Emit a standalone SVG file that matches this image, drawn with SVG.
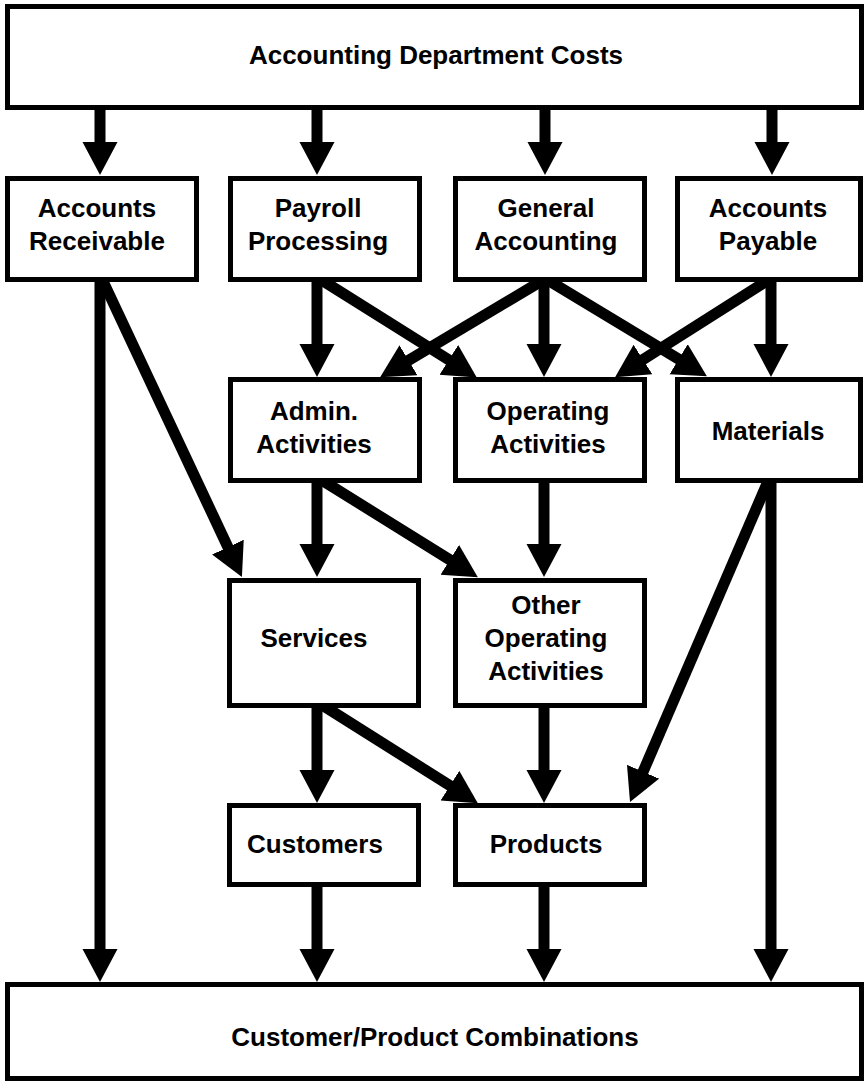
<svg xmlns="http://www.w3.org/2000/svg" width="865" height="1084" viewBox="0 0 865 1084">
<style>
.box{fill:#fff;stroke:#000;stroke-width:5}
.t{font-family:"Liberation Sans",Arial,Helvetica,sans-serif;font-weight:bold;font-size:26px;fill:#000;text-anchor:middle}
.c{stroke:#000;stroke-width:11;fill:none;marker-end:url(#ah)}
</style>
<defs>
<marker id="ah" markerUnits="userSpaceOnUse" markerWidth="34" markerHeight="36" viewBox="0 0 34 36" refX="8" refY="17.5" orient="auto">
<path d="M0,0 L33,17.5 L0,35 Z" fill="#000"/>
</marker>
</defs>
<rect width="865" height="1084" fill="#fff"/>
<g id="connectors">
<line class="c" x1="100" y1="105" x2="100" y2="150"/>
<line class="c" x1="317" y1="105" x2="317" y2="150"/>
<line class="c" x1="545" y1="105" x2="545" y2="150"/>
<line class="c" x1="772" y1="105" x2="772" y2="150"/>
<line class="c" x1="317" y1="279" x2="317" y2="352"/>
<line class="c" x1="320" y1="279" x2="455.6" y2="364.1"/>
<line class="c" x1="545" y1="279" x2="401.6" y2="364.4"/>
<line class="c" x1="544" y1="279" x2="544" y2="352"/>
<line class="c" x1="546" y1="279" x2="685.5" y2="363.3"/>
<line class="c" x1="770" y1="279" x2="636.2" y2="363.8"/>
<line class="c" x1="771" y1="279" x2="771" y2="352"/>
<line class="c" x1="100" y1="279" x2="100" y2="957"/>
<line class="c" x1="102" y1="279" x2="231.3" y2="554.4"/>
<line class="c" x1="317" y1="479" x2="317" y2="552"/>
<line class="c" x1="320" y1="479" x2="456.6" y2="564"/>
<line class="c" x1="544" y1="479" x2="544" y2="552"/>
<line class="c" x1="771" y1="479" x2="771" y2="957"/>
<line class="c" x1="769" y1="479" x2="639.9" y2="779.1"/>
<line class="c" x1="317" y1="703" x2="317" y2="778"/>
<line class="c" x1="319" y1="703" x2="456.7" y2="789.9"/>
<line class="c" x1="544" y1="703" x2="544" y2="778"/>
<line class="c" x1="317" y1="882" x2="317" y2="957"/>
<line class="c" x1="544" y1="882" x2="544" y2="957"/>
</g>
<g id="n-top"><rect class="box" x="7.5" y="6.5" width="854" height="101"/><text class="t" x="436" y="64">Accounting Department Costs</text></g>
<g id="n-ar"><rect class="box" x="7.5" y="178.5" width="189" height="101"/><text class="t" x="97" y="217">Accounts</text><text class="t" x="97" y="250">Receivable</text></g>
<g id="n-payroll"><rect class="box" x="230.5" y="178.5" width="189" height="101"/><text class="t" x="318" y="217">Payroll</text><text class="t" x="318" y="250">Processing</text></g>
<g id="n-general"><rect class="box" x="455.5" y="178.5" width="189" height="101"/><text class="t" x="546" y="217">General</text><text class="t" x="546" y="250">Accounting</text></g>
<g id="n-ap"><rect class="box" x="677.5" y="178.5" width="183" height="101"/><text class="t" x="768" y="217">Accounts</text><text class="t" x="768" y="250">Payable</text></g>
<g id="n-admin"><rect class="box" x="230.5" y="379.5" width="189" height="101"/><text class="t" x="314" y="420">Admin.</text><text class="t" x="314" y="453">Activities</text></g>
<g id="n-operating"><rect class="box" x="455.5" y="379.5" width="189" height="101"/><text class="t" x="548" y="420">Operating</text><text class="t" x="548" y="453">Activities</text></g>
<g id="n-materials"><rect class="box" x="677.5" y="379.5" width="183" height="101"/><text class="t" x="768" y="440">Materials</text></g>
<g id="n-services"><rect class="box" x="229.5" y="580.5" width="189" height="125"/><text class="t" x="314" y="647">Services</text></g>
<g id="n-other"><rect class="box" x="455.5" y="580.5" width="189" height="125"/><text class="t" x="546" y="614">Other</text><text class="t" x="546" y="647">Operating</text><text class="t" x="546" y="680">Activities</text></g>
<g id="n-customers"><rect class="box" x="229.5" y="805.5" width="189" height="79"/><text class="t" x="315" y="853">Customers</text></g>
<g id="n-products"><rect class="box" x="455.5" y="805.5" width="189" height="79"/><text class="t" x="546" y="853">Products</text></g>
<g id="n-bottom"><rect class="box" x="7.5" y="984.5" width="854" height="94"/><text class="t" x="435" y="1046">Customer/Product Combinations</text></g>
</svg>
